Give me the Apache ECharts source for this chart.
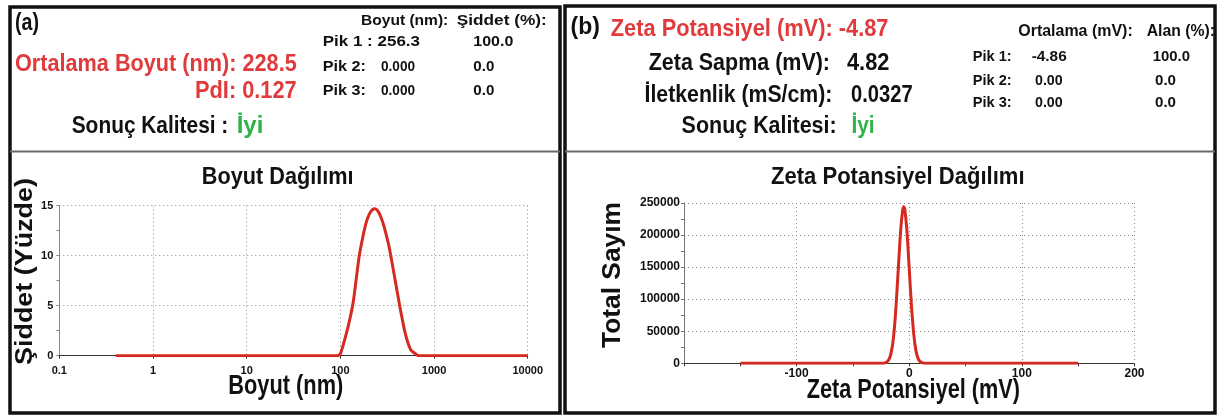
<!DOCTYPE html>
<html>
<head>
<meta charset="utf-8">
<script src="https://cdn.jsdelivr.net/npm/echarts@6/dist/echarts.min.js"></script>
<style>
html,body{margin:0;padding:0;background:#fff;}
#c{width:1220px;height:416px;}
</style>
</head>
<body>
<div id="c"></div>
<script>
// ---- data ----
const sizeNm = [0.4, 1, 10, 50, 94, 100, 106, 121, 138, 158, 175, 190, 205, 220, 235, 250, 270, 291, 333, 379, 432, 494, 563, 641, 684, 1000, 5000, 10000];
const intensityPct = [0, 0, 0, 0, 0, 0.2, 0.9, 2.9, 5.5, 9.8, 12.0, 13.4, 14.2, 14.6, 14.7, 14.5, 13.9, 13.0, 10.8, 7.9, 4.9, 2.2, 0.6, 0.15, 0, 0, 0, 0];
const zetaMv = [-150, -30, -25, -22, -20, -18, -16, -14, -12, -10, -8, -6, -4.9, -4, -2, 0, 2, 4, 6, 8, 10, 12, 15, 20, 150];
const totalCounts = [0, 0, 100, 500, 1800, 6000, 17000, 40000, 82000, 139000, 198000, 237000, 244000, 241000, 205000, 147000, 88000, 45000, 19000, 7000, 2100, 500, 0, 0, 0];
const sizeTicks = ['0.1', '1', '10', '100', '1000', '10000'];

const FAM = '"Liberation Sans", Arial, sans-serif';
const RED = '#e03a3c', GREEN = '#2fb24a', LINE = '#d42a20';

const ctx = document.createElement('canvas').getContext('2d');
function fit(str, left, right, cy, size, color, weight, rot) {
  weight = weight || 'bold';
  ctx.font = weight + ' ' + size + 'px ' + FAM;
  const w = ctx.measureText(str).width;
  const el = {
    type: 'text', x: left, y: cy, scaleX: Math.abs(right - left) / w, z: 10,
    style: { text: str, x: 0, y: 0, fill: color || '#111', fontSize: size, fontWeight: weight,
      fontFamily: FAM, textAlign: 'left', textVerticalAlign: 'middle' }
  };
  if (rot) el.rotation = rot;
  return el;
}
// rotated (bottom-to-top) text: column cx, from yStart (bottom) with given length
function vfit(str, cx, yStart, len, size) {
  const el = fit(str, 0, len, 0, size, '#111', 'bold', Math.PI / 2);
  el.x = cx; el.y = yStart;
  return el;
}

const graphics = [
  // panel frames
  { type: 'rect', shape: { x: 10, y: 7, width: 550, height: 406 }, style: { fill: 'none', stroke: '#111', lineWidth: 3.5 }, z: 20 },
  { type: 'rect', shape: { x: 565, y: 6, width: 650, height: 407 }, style: { fill: 'none', stroke: '#111', lineWidth: 3.5 }, z: 20 },
  { type: 'line', shape: { x1: 10, y1: 151.5, x2: 560, y2: 151.5 }, style: { stroke: '#6a6a6a', lineWidth: 2 }, z: 20 },
  { type: 'line', shape: { x1: 565, y1: 151.5, x2: 1215, y2: 151.5 }, style: { stroke: '#6a6a6a', lineWidth: 2 }, z: 20 },
  // left header
  fit('(a)', 15, 39, 23, 24, '#111'),
  fit('Ortalama Boyut (nm): 228.5', 15, 296.7, 64, 24, RED),
  fit('PdI: 0.127', 195, 296.7, 91, 24, RED),
  fit('Sonuç Kalitesi :', 71.7, 228.3, 126, 24, '#111'),
  fit('İyi', 236.7, 263.3, 126, 24, GREEN),
  fit('Boyut (nm):', 361, 448.3, 21, 15, '#111'),
  fit('Şiddet (%):', 456.7, 546.7, 21, 15, '#111'),
  fit('Pik 1 : 256.3', 322.7, 420, 41.7, 15, '#111'),
  fit('100.0', 473.3, 513.3, 41.7, 15, '#111'),
  fit('Pik 2:', 322.7, 366, 66.7, 15, '#111'),
  fit('0.000', 381, 415, 66.7, 15, '#111'),
  fit('0.0', 473.3, 494.3, 66.7, 15, '#111'),
  fit('Pik 3:', 322.7, 366, 91, 15, '#111'),
  fit('0.000', 381, 415, 91, 15, '#111'),
  fit('0.0', 473.3, 494.3, 91, 15, '#111'),
  // right header
  fit('(b)', 570.6, 600, 27, 24, '#111'),
  fit('Zeta Potansiyel (mV): -4.87', 610.7, 888.5, 29, 24, RED),
  fit('Zeta Sapma (mV):', 648.7, 830, 64, 23, '#111'),
  fit('4.82', 847, 889.4, 64, 23, '#111'),
  fit('İletkenlik (mS/cm):', 644.5, 832.4, 96, 23, '#111'),
  fit('0.0327', 851, 912.6, 96, 23, '#111'),
  fit('Sonuç Kalitesi:', 681.6, 836.6, 127, 23, '#111'),
  fit('İyi', 851.4, 874.6, 127, 23, GREEN),
  fit('Ortalama (mV):', 1018.3, 1132.7, 31.7, 16, '#111'),
  fit('Alan (%):', 1146.7, 1215, 31.7, 16, '#111'),
  fit('Pik 1:', 972.7, 1011.7, 56.7, 15, '#111'),
  fit('-4.86', 1031.7, 1066.7, 56.7, 15, '#111'),
  fit('100.0', 1152.7, 1190, 56.7, 15, '#111'),
  fit('Pik 2:', 972.7, 1011.7, 81, 15, '#111'),
  fit('0.00', 1035, 1062.7, 81, 15, '#111'),
  fit('0.0', 1155, 1176, 81, 15, '#111'),
  fit('Pik 3:', 972.7, 1011.7, 103.3, 15, '#111'),
  fit('0.00', 1035, 1062.7, 103.3, 15, '#111'),
  fit('0.0', 1155, 1176, 103.3, 15, '#111'),
  // chart titles & axis names
  fit('Boyut Dağılımı', 201.8, 353.6, 178, 23, '#111'),
  fit('Zeta Potansiyel Dağılımı', 771, 1024.5, 178, 23, '#111'),
  fit('Boyut (nm)', 228.3, 343.3, 387, 27, '#111'),
  fit('Zeta Potansiyel (mV)', 806.7, 1020, 391, 27, '#111'),
  vfit('Şiddet (Yüzde)', 25.5, 365, 187, 24),
  vfit('Total Sayım', 612.5, 348, 146, 26)
];

const dotted = { type: [1, 3], color: '#8c8c8c', width: 1 };
const lblStyle = { color: '#111', fontWeight: 'bold', fontFamily: FAM };

const option = {
  animation: false,
  backgroundColor: '#fff',
  grid: [
    { left: 59.3, top: 205.7, width: 468.4, height: 150 },
    { left: 684, top: 203, width: 450.5, height: 160.3 }
  ],
  xAxis: [
    {
      type: 'log', gridIndex: 0, logBase: 10, min: 0.1, max: 10000, splitNumber: 5,
      axisLine: { show: true, onZero: false, lineStyle: { color: '#333', width: 1 } },
      axisTick: { show: true, length: 3, lineStyle: { color: '#333' } },
      axisLabel: Object.assign({ fontSize: 11, margin: 10,
        formatter: v => { const i = Math.round(Math.log10(v)) + 1; return sizeTicks[i] !== undefined ? sizeTicks[i] : ''; } }, lblStyle),
      splitLine: { show: true, lineStyle: dotted }
    },
    {
      type: 'value', gridIndex: 1, min: -200, max: 200, interval: 100,
      axisLine: { show: true, onZero: false, lineStyle: { color: '#333', width: 1 } },
      axisTick: { show: true, length: 3, lineStyle: { color: '#333' } },
      minorTick: { show: true, splitNumber: 2, length: 3, lineStyle: { color: '#333' } },
      axisLabel: Object.assign({ fontSize: 12, margin: 4, showMinLabel: false, formatter: v => String(v) }, lblStyle),
      splitLine: { show: true, lineStyle: dotted }
    }
  ],
  yAxis: [
    {
      type: 'value', gridIndex: 0, min: 0, max: 15, interval: 5,
      axisLine: { show: true, onZero: false, lineStyle: { color: '#888', width: 1 } },
      axisTick: { show: true, length: 3, lineStyle: { color: '#888' } },
      minorTick: { show: true, splitNumber: 2, length: 3, lineStyle: { color: '#888' } },
      axisLabel: Object.assign({ fontSize: 11, margin: 6, formatter: v => String(v) }, lblStyle),
      splitLine: { show: true, lineStyle: dotted }
    },
    {
      type: 'value', gridIndex: 1, min: 0, max: 250000, interval: 50000,
      axisLine: { show: true, onZero: false, lineStyle: { color: '#777', width: 1 } },
      axisTick: { show: true, length: 3, lineStyle: { color: '#777' } },
      minorTick: { show: true, splitNumber: 2, length: 3, lineStyle: { color: '#777' } },
      axisLabel: Object.assign({ fontSize: 12, margin: 4, formatter: v => String(v) }, lblStyle),
      splitLine: { show: true, lineStyle: dotted }
    }
  ],
  series: [
    {
      type: 'line', xAxisIndex: 0, yAxisIndex: 0, showSymbol: false, smooth: 0.15,
      lineStyle: { color: LINE, width: 3 },
      data: sizeNm.map((s, i) => [s, intensityPct[i]])
    },
    {
      type: 'line', xAxisIndex: 1, yAxisIndex: 1, showSymbol: false, smooth: 0.15,
      lineStyle: { color: LINE, width: 3 },
      data: zetaMv.map((s, i) => [s, totalCounts[i]])
    }
  ],
  graphic: { elements: graphics }
};

const chart = echarts.init(document.getElementById('c'), null, { renderer: 'canvas' });
chart.setOption(option);
</script>
</body>
</html>
